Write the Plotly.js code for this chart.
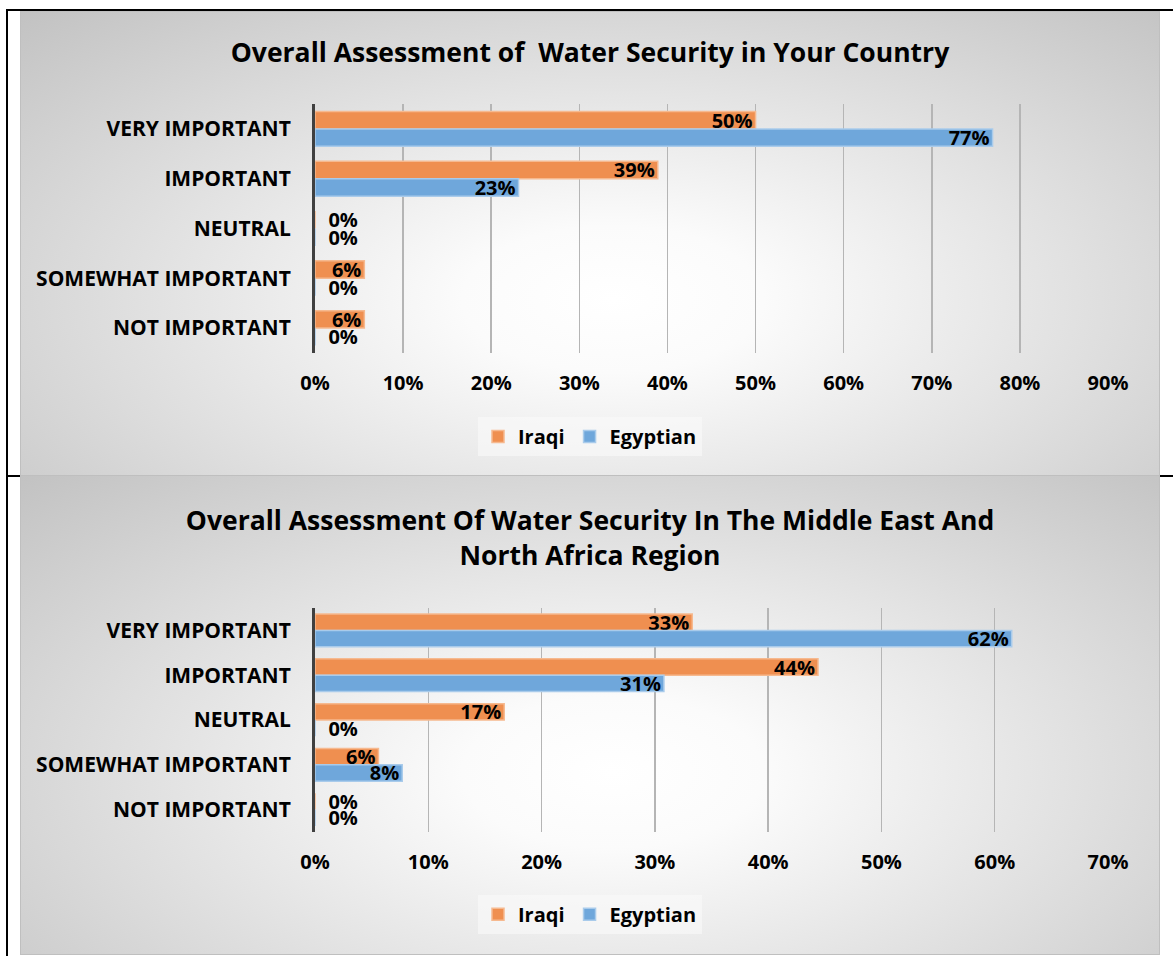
<!DOCTYPE html>
<html>
<head>
<meta charset="utf-8">
<script src="https://cdn.plot.ly/plotly-3.0.1.min.js"></script>
<style>
  html, body { margin: 0; padding: 0; background: #ffffff; }
  #wrap { position: relative; width: 1173px; height: 956px; overflow: hidden; background: #fff; }
  .frame { position: absolute; background: #000; }
  .panel {
    position: absolute; left: 20px; width: 1140px; box-sizing: border-box;
    border: 1px solid #bfbfbf;
    background: radial-gradient(farthest-corner at 52% 62%, #ffffff 0%, #fbfbfb 18%, #c2c2c2 100%);
  }
</style>
</head>
<body>
<div id="wrap">
  <div class="panel" id="p1" style="top:11px; height:465px;"></div>
  <div class="panel" id="p2" style="top:475px; height:480px;"></div>
  <div class="frame" style="left:6px; top:9px; width:1167px; height:2px;"></div>
  <div class="frame" style="left:6px; top:9px; width:2px; height:947px;"></div>
  <div class="frame" style="left:6px; top:475px; width:14px; height:2px;"></div>
  <div class="frame" style="left:1160px; top:475px; width:13px; height:2px;"></div>
</div>
<script>
// ---------- data ----------
const categories = ['VERY IMPORTANT', 'IMPORTANT', 'NEUTRAL', 'SOMEWHAT IMPORTANT', 'NOT IMPORTANT'];
const seriesNames = ['Iraqi', 'Egyptian'];

const countryTitle = 'Overall Assessment of  Water Security in Your Country';
const countryIraqi = [0.500, 0.389, 0.000, 0.056, 0.056];
const countryEgyptian = [0.769, 0.231, 0.000, 0.000, 0.000];
const countryTicks = [0, 0.1, 0.2, 0.3, 0.4, 0.5, 0.6, 0.7, 0.8, 0.9];

const regionTitle = 'Overall Assessment Of Water Security In The Middle East And<br>North Africa Region';
const regionIraqi = [0.333, 0.444, 0.167, 0.056, 0.000];
const regionEgyptian = [0.615, 0.308, 0.000, 0.077, 0.000];
const regionTicks = [0, 0.1, 0.2, 0.3, 0.4, 0.5, 0.6, 0.7];

// ---------- styling ----------
const FONT = '"Open Sans", "Noto Sans", sans-serif';
const COLORS = ['#EF8F50', '#6FA7DB'];
const LINES = ['#F6B98F', '#A9CBEB'];

function makeTraces(iraqi, egyptian) {
  return [iraqi, egyptian].map((vals, i) => ({
    type: 'bar',
    orientation: 'h',
    name: seriesNames[i],
    y: categories,
    x: vals,
    text: vals.map(v => (v === 0 ? '\u00a0\u00a0' : '') + Math.round(v * 100) + '%'),
    textposition: vals.map(v => v === 0 ? 'outside' : 'inside'),
    insidetextanchor: 'end',
    constraintext: 'none',
    cliponaxis: false,
    textfont: { family: FONT, size: 20, color: '#000', weight: 700 },
    insidetextfont: { family: FONT, size: 20, color: '#000', weight: 700 },
    outsidetextfont: { family: FONT, size: 20, color: '#000', weight: 700 },
    marker: { color: COLORS[i], line: { color: LINES[i], width: 1.5 } },
    hoverinfo: 'x+y+name'
  }));
}

function makeLayout(opts) {
  return {
    width: 1138, height: opts.height,
    paper_bgcolor: 'rgba(0,0,0,0)', plot_bgcolor: 'rgba(0,0,0,0)',
    margin: { l: opts.l, r: opts.r, t: opts.t, b: opts.b, pad: 0 },
    font: { family: FONT, color: '#000' },
    title: {
      text: opts.title, x: 0.5, xanchor: 'center', xref: 'container',
      y: opts.titleY, yanchor: 'middle', yref: 'container',
      font: { family: FONT, size: 26.5, color: '#000', weight: 700 }
    },
    barmode: 'group', bargap: opts.bargap, bargroupgap: 0,
    showlegend: true,
    legend: {
      orientation: 'h', x: 0.5, xanchor: 'center', xref: 'container',
      y: opts.legendY, yanchor: 'middle', yref: 'container',
      bgcolor: 'rgba(250,250,250,0.6)', borderwidth: 0,
      font: { family: FONT, size: 20, color: '#000', weight: 700 },
      itemwidth: 30, traceorder: 'normal'
    },
    xaxis: {
      range: [0, opts.tickvals[opts.tickvals.length - 1]],
      tickvals: opts.tickvals, tickformat: '.0%',
      showgrid: true, gridcolor: '#b5b5b5', gridwidth: 1.5,
      zeroline: false, showline: false, ticks: '',
      ticklabelstandoff: 16,
      tickfont: { family: FONT, size: 20, color: '#000', weight: 700 },
      fixedrange: true
    },
    yaxis: {
      type: 'category', categoryorder: 'array', categoryarray: categories,
      autorange: 'reversed',
      showline: true, linecolor: '#404040', linewidth: 3,
      showgrid: false, zeroline: false, ticks: '',
      ticklabelstandoff: 17,
      tickfont: { family: FONT, size: 21, color: '#000', weight: 700 },
      fixedrange: true
    }
  };
}

Plotly.newPlot('p1', makeTraces(countryIraqi, countryEgyptian), makeLayout({
  height: 463, l: 294, r: 51, t: 92, b: 122,
  title: countryTitle, titleY: 0.913, legendY: 0.083,
  tickvals: countryTicks, bargap: 0.30
}), { staticPlot: true, displayModeBar: false });

Plotly.newPlot('p2', makeTraces(regionIraqi, regionEgyptian), makeLayout({
  height: 478, l: 294, r: 51, t: 132, b: 122,
  title: regionTitle, titleY: 0.886, legendY: 0.083,
  tickvals: regionTicks, bargap: 0.27
}), { staticPlot: true, displayModeBar: false });
</script>
</body>
</html>
